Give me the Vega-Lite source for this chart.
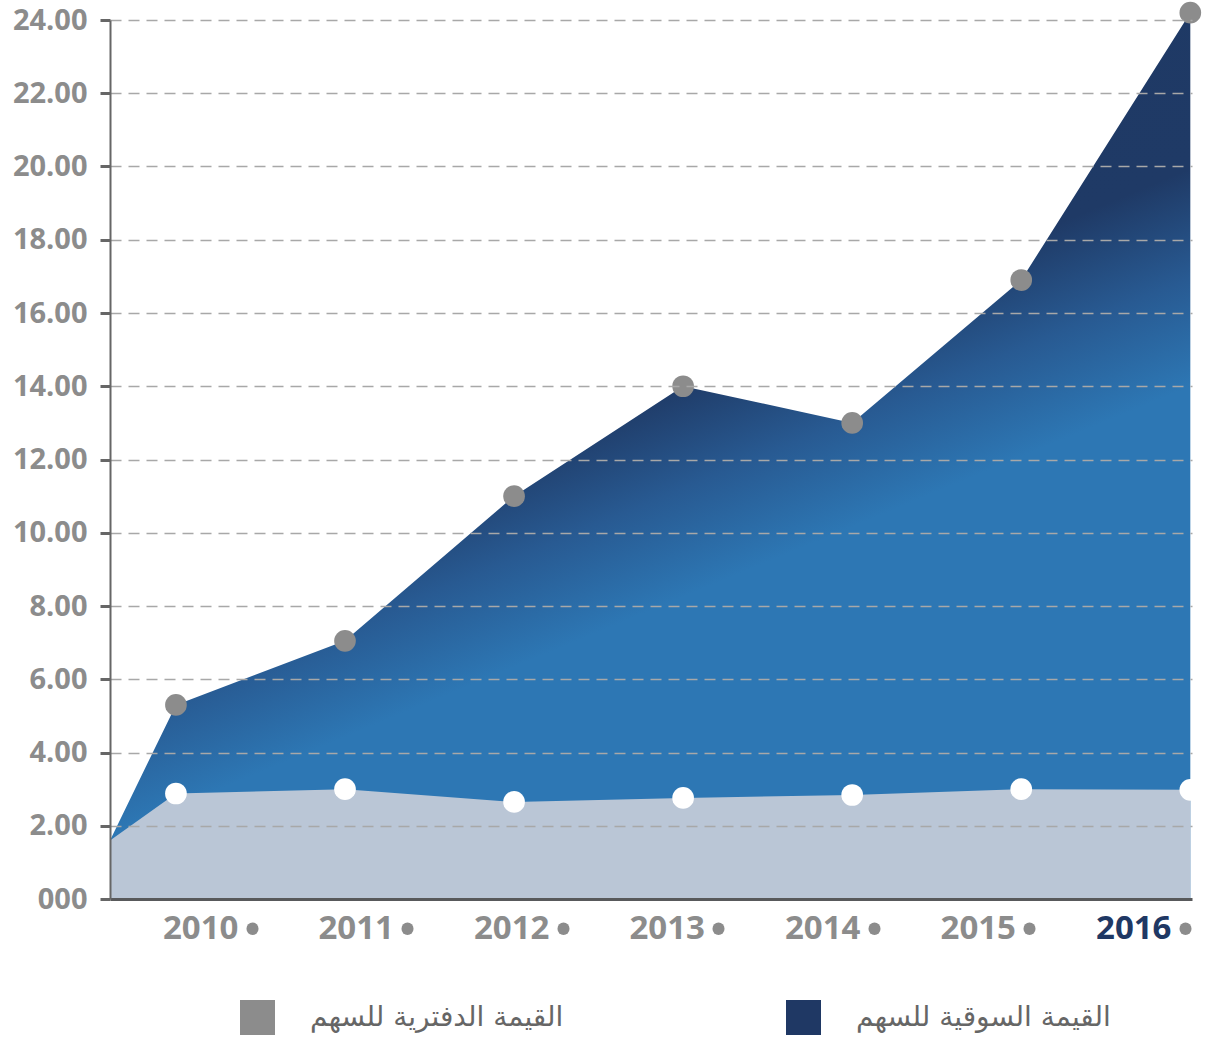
{
  "$schema": "https://vega.github.io/schema/vega-lite/v6.json",
  "width": 1082,
  "height": 879,
  "autosize": {"type": "none"},
  "padding": {"left": 110, "top": 20, "right": 14, "bottom": 142},
  "background": "white",
  "config": {"view": {"stroke": null}, "font": "Open Sans"},
  "data": {
    "values": [
      {"year": 2009.61, "series": "القيمة السوقية للسهم", "value": 1.6},
      {"year": 2010, "series": "القيمة السوقية للسهم", "value": 5.3},
      {"year": 2011, "series": "القيمة السوقية للسهم", "value": 7.05},
      {"year": 2012, "series": "القيمة السوقية للسهم", "value": 11.0},
      {"year": 2013, "series": "القيمة السوقية للسهم", "value": 14.0},
      {"year": 2014, "series": "القيمة السوقية للسهم", "value": 13.0},
      {"year": 2015, "series": "القيمة السوقية للسهم", "value": 16.9},
      {"year": 2016, "series": "القيمة السوقية للسهم", "value": 24.2},
      {"year": 2009.61, "series": "القيمة الدفترية للسهم", "value": 1.6},
      {"year": 2010, "series": "القيمة الدفترية للسهم", "value": 2.88},
      {"year": 2011, "series": "القيمة الدفترية للسهم", "value": 3.0},
      {"year": 2012, "series": "القيمة الدفترية للسهم", "value": 2.65},
      {"year": 2013, "series": "القيمة الدفترية للسهم", "value": 2.76},
      {"year": 2014, "series": "القيمة الدفترية للسهم", "value": 2.84},
      {"year": 2015, "series": "القيمة الدفترية للسهم", "value": 3.0},
      {"year": 2016, "series": "القيمة الدفترية للسهم", "value": 2.98}
    ]
  },
  "resolve": {"scale": {"x": "independent"}, "axis": {"x": "independent"}},
  "layer": [
    {
      "encoding": {
        "x": {
          "field": "year",
          "type": "quantitative",
          "scale": {"domain": [2009.61, 2016.01], "nice": false, "zero": false},
          "axis": {
            "orient": "bottom",
            "title": null,
            "labels": false,
            "ticks": false,
            "grid": false,
            "domain": true,
            "domainColor": "#58595b",
            "domainWidth": 3,
            "zindex": 1
          }
        },
        "y": {
          "field": "value",
          "type": "quantitative",
          "scale": {"domain": [0, 24], "nice": false},
          "axis": {
            "title": null,
            "values": [0, 2, 4, 6, 8, 10, 12, 14, 16, 18, 20, 22, 24],
            "labelExpr": "datum.value == 0 ? '000' : format(datum.value, '.2f')",
            "labelFont": "Open Sans",
            "labelFontSize": 29,
            "labelFontWeight": "bold",
            "labelColor": "#8c8c8c",
            "labelPadding": 13,
            "domainColor": "#666666",
            "domainWidth": 2,
            "tickColor": "#666666",
            "tickWidth": 3,
            "tickSize": 10,
            "grid": true,
            "gridColor": "#a8a8a8",
            "gridWidth": 1.5,
            "gridDash": [11, 7],
            "gridOpacity": {"condition": {"test": "datum.value == 0", "value": 0}, "value": 1},
            "zindex": 1
          }
        }
      },
      "layer": [
        {
          "transform": [{"filter": "datum.series == 'القيمة السوقية للسهم'"}],
          "mark": {
            "type": "area",
            "fill": {
              "gradient": "linear",
              "x1": 0, "y1": 0, "x2": 0.45, "y2": 0.89,
              "stops": [
                {"offset": 0, "color": "#1e3863"},
                {"offset": 0.61, "color": "#1f3a66"},
                {"offset": 0.72, "color": "#285a92"},
                {"offset": 0.83, "color": "#2d77b4"},
                {"offset": 1, "color": "#2d77b4"}
              ]
            }
          }
        },
        {
          "transform": [{"filter": "datum.series == 'القيمة الدفترية للسهم'"}],
          "mark": {"type": "area", "fill": "#bac6d6"}
        },
        {
          "transform": [{"filter": "datum.year >= 2010"}],
          "mark": {"type": "point", "filled": true, "opacity": 0, "shape": "square", "size": 0},
          "encoding": {
            "color": {
              "field": "series",
              "type": "nominal",
              "scale": {
                "domain": ["القيمة الدفترية للسهم", "القيمة السوقية للسهم"],
                "range": ["#8c8c8c", "#1f3864"]
              },
              "legend": {
                "title": null,
                "orient": "none",
                "legendX": 130,
                "legendY": 980,
                "direction": "horizontal",
                "padding": 0,
                "symbolType": "square",
                "symbolSize": 1225,
                "symbolOpacity": 1,
                "symbolStrokeWidth": 0,
                "labelFont": "DejaVu Sans",
                "labelFontSize": 28,
                "labelColor": "#666666",
                "labelOffset": 35,
                "labelLimit": 500,
                "columnPadding": 222
              }
            }
          }
        },
        {
          "transform": [{"filter": "datum.series == 'القيمة السوقية للسهم' && datum.year >= 2010"}],
          "mark": {"type": "point", "filled": true, "fill": "#8c8c8c", "opacity": 1, "size": 470, "strokeWidth": 0}
        },
        {
          "transform": [{"filter": "datum.series == 'القيمة الدفترية للسهم' && datum.year >= 2010"}],
          "mark": {"type": "point", "filled": true, "fill": "#ffffff", "opacity": 1, "size": 470, "strokeWidth": 0}
        }
      ]
    },
    {
      "transform": [{"filter": "datum.series == 'القيمة السوقية للسهم' && datum.year >= 2010"}],
      "mark": {"type": "point", "opacity": 0},
      "encoding": {
        "x": {
          "field": "year",
          "type": "ordinal",
          "scale": {"type": "point", "padding": 0.479, "align": 0.953},
          "axis": {
            "orient": "bottom",
            "title": null,
            "offset": 29,
            "domain": false,
            "grid": false,
            "ticks": true,
            "tickSize": 0.5,
            "tickWidth": 12,
            "tickCap": "round",
            "tickColor": "#8c8c8c",
            "labelAngle": 0,
            "labelAlign": "right",
            "labelBaseline": "middle",
            "labelPadding": -0.5,
            "labelOffset": -14,
            "labelOverlap": false,
            "labelFont": "Open Sans",
            "labelFontSize": 33,
            "labelFontWeight": "bold",
            "labelColor": {"condition": {"test": "datum.value == 2016", "value": "#1f3864"}, "value": "#8c8c8c"}
          }
        }
      }
    }
  ]
}
